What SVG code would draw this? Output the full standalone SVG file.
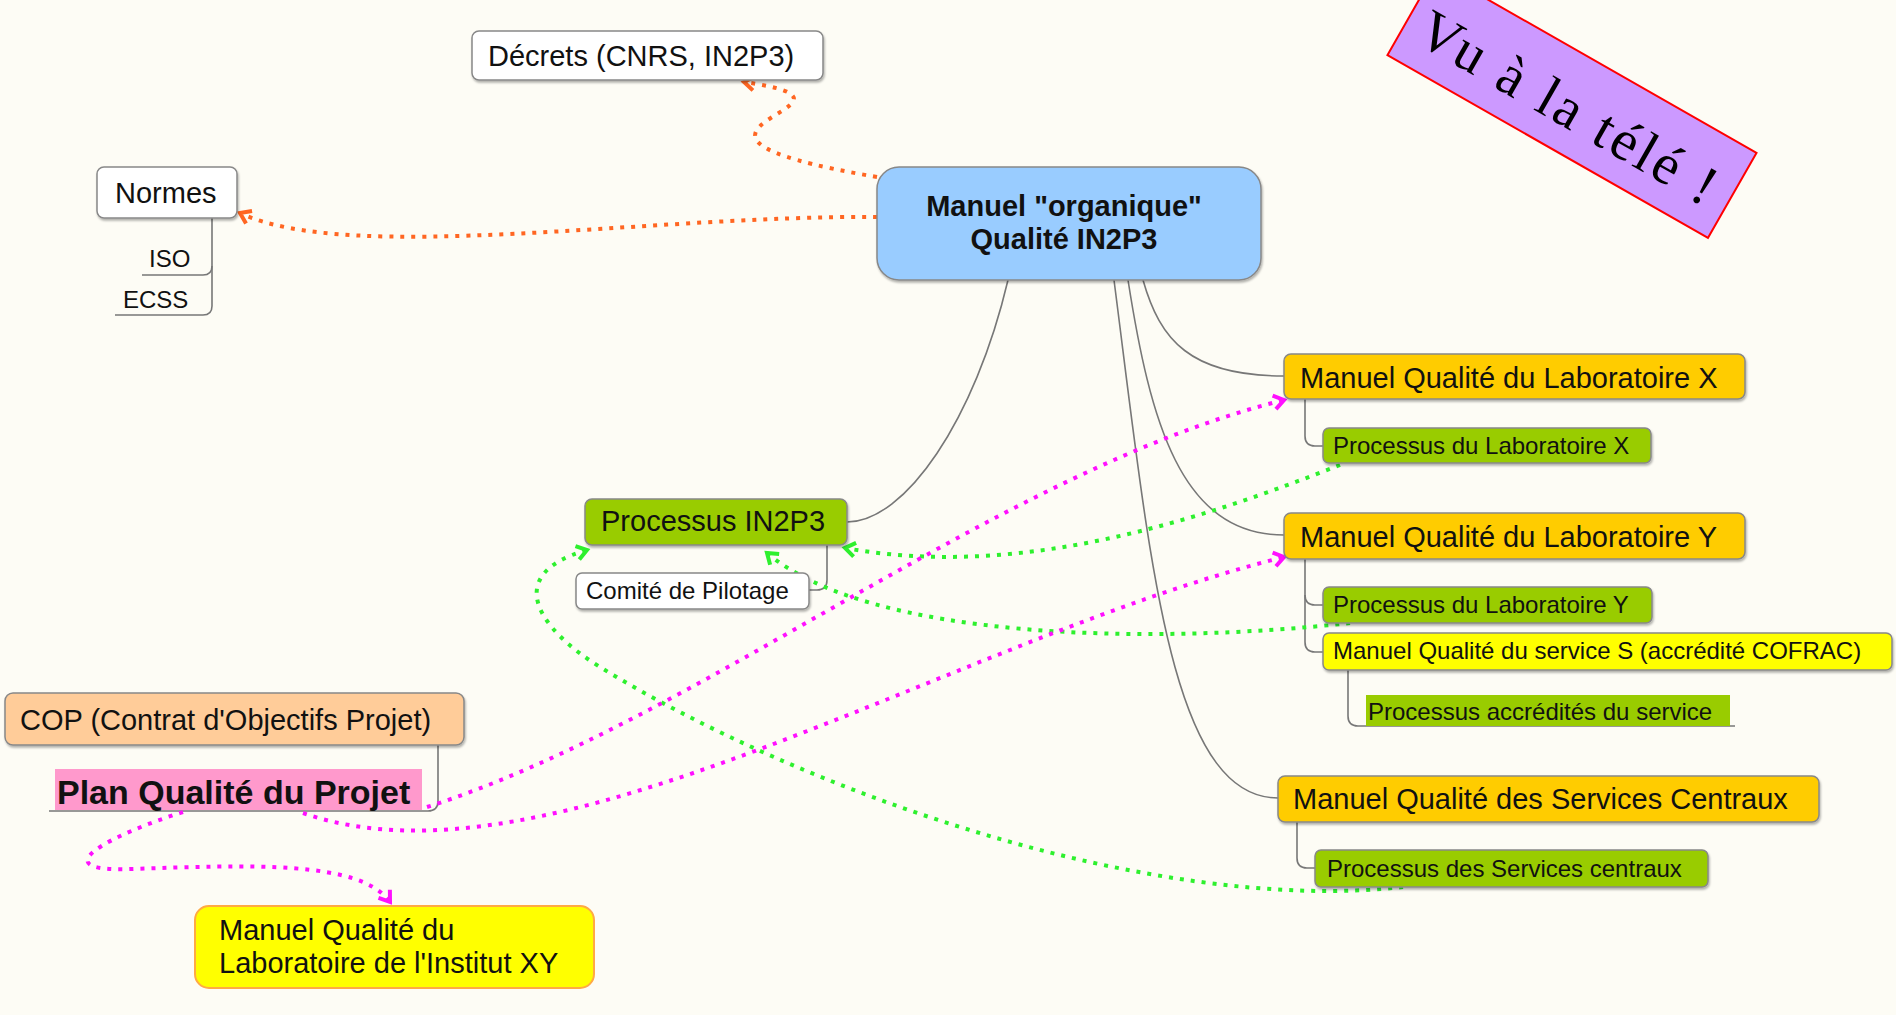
<svg xmlns="http://www.w3.org/2000/svg" width="1896" height="1015" viewBox="0 0 1896 1015">
<style>
.t{font-family:"Liberation Sans",Arial,sans-serif;fill:#111}
.b29{font-size:29px}
.s24{font-size:24px}
.box{stroke:#888;stroke-width:1.5;filter:url(#sh)}
.tree{fill:none;stroke:#777;stroke-width:1.6}
.dot{fill:none;stroke-width:4;stroke-dasharray:4 7}
.or{stroke:#ff6622}
.gr{stroke:#2ef02e}
.mg{stroke:#ff10ff}
</style>
<defs>
<filter id="sh" x="-5%" y="-10%" width="112%" height="135%">
<feDropShadow dx="1" dy="2" stdDeviation="1.2" flood-color="#000" flood-opacity="0.3"/>
</filter>
<marker id="aO" viewBox="0 0 20 20" refX="15" refY="10" markerWidth="20" markerHeight="20" markerUnits="userSpaceOnUse" orient="auto">
<path d="M5,3 L15,10 L5,17" fill="none" stroke="#ff6622" stroke-width="4" stroke-dasharray="none"/>
</marker>
<marker id="aG" viewBox="0 0 20 20" refX="15" refY="10" markerWidth="20" markerHeight="20" markerUnits="userSpaceOnUse" orient="auto">
<path d="M5,3 L15,10 L5,17" fill="none" stroke="#2ef02e" stroke-width="4" stroke-dasharray="none"/>
</marker>
<marker id="aM" viewBox="0 0 20 20" refX="15" refY="10" markerWidth="20" markerHeight="20" markerUnits="userSpaceOnUse" orient="auto">
<path d="M5,3 L15,10 L5,17" fill="none" stroke="#ff10ff" stroke-width="4" stroke-dasharray="none"/>
</marker>
</defs>
<rect x="0" y="0" width="1896" height="1015" fill="#fdfcf5"/>

<g id="connectors">
<!-- tree edges -->
<path class="tree" d="M1008,280 C975,420 905,522 847,522"/>
<path class="tree" d="M1143,280 C1160,340 1190,376 1284,376"/>
<path class="tree" d="M1128,280 C1150,420 1180,535 1284,535"/>
<path class="tree" d="M1114,280 C1150,560 1170,798 1278,798"/>
<path class="tree" d="M212,218 V266 Q212,275 203,275 H142"/>
<path class="tree" d="M212,266 V306 Q212,315 203,315 H115"/>
<path class="tree" d="M827,545 V580 Q827,590 817,590 H809"/>
<path class="tree" d="M1305,399 V436 Q1305,446 1315,446 H1323"/>
<path class="tree" d="M1305,559 V595 Q1305,605 1315,605 H1323"/>
<path class="tree" d="M1305,595 V642 Q1305,652 1315,652 H1323"/>
<path class="tree" d="M1348,670 V716 Q1348,726 1358,726 H1735"/>
<path class="tree" d="M1297,822 V858 Q1297,868 1307,868 H1315"/>
<path class="tree" d="M438,745 V801 Q438,811 428,811 H49"/>
<!-- arrow links -->
<path class="dot or" d="M877,177 C600,130 905,105 744,82" marker-end="url(#aO)"/>
<path class="dot or" d="M877,217 C650,215 350,265 240,213" marker-end="url(#aO)"/>
<path class="dot gr" d="M1340,465 C1200,520 1020,580 845,548" marker-end="url(#aG)"/>
<path class="dot gr" d="M1350,623 C1150,645 870,640 767,553" marker-end="url(#aG)"/>
<path class="dot gr" d="M1403,887 C1150,915 800,790 600,667 C540,630 500,575 587,550" marker-end="url(#aG)"/>
<path class="dot mg" d="M427,807 C700,720 1000,470 1284,400" marker-end="url(#aM)"/>
<path class="dot mg" d="M303,813 C550,900 950,640 1284,557" marker-end="url(#aM)"/>
<path class="dot mg" d="M183,812 C110,835 40,872 130,869 C250,865 360,860 390,902" marker-end="url(#aM)"/>
</g>

<g id="n-decrets">
<rect class="box" x="472" y="31" width="351" height="49" rx="7" fill="#ffffff"/>
<text class="t b29" x="488" y="66">Décrets (CNRS, IN2P3)</text>
</g>
<g id="n-normes">
<rect class="box" x="97" y="167" width="140" height="51" rx="7" fill="#ffffff"/>
<text class="t b29" x="115" y="203">Normes</text>
</g>
<g id="n-iso"><text class="t s24" x="149" y="267">ISO</text></g>
<g id="n-ecss"><text class="t s24" x="123" y="308">ECSS</text></g>
<g id="n-main">
<rect class="box" x="877" y="167" width="384" height="113" rx="22" fill="#99ccff"/>
<text class="t b29" x="1064" y="216" text-anchor="middle" font-weight="bold" fill="#333">Manuel "organique"</text>
<text class="t b29" x="1064" y="249" text-anchor="middle" font-weight="bold" fill="#333">Qualité IN2P3</text>
</g>
<g id="n-tele" transform="translate(1436,-30) rotate(29.7)">
<rect x="0" y="0" width="369" height="98" fill="#cc99ff" stroke="#ff0000" stroke-width="2"/>
<text x="16" y="73" font-family="'Liberation Serif','Times New Roman',serif" font-size="57" fill="#000" textLength="334" lengthAdjust="spacing">Vu à la télé !</text>
</g>
<g id="n-proc-in2p3">
<rect class="box" x="585" y="499" width="262" height="46" rx="7" fill="#99cc00"/>
<text class="t b29" x="601" y="531">Processus IN2P3</text>
</g>
<g id="n-comite">
<rect class="box" x="576" y="573" width="233" height="36" rx="6" fill="#ffffff"/>
<text class="t s24" x="586" y="599">Comité de Pilotage</text>
</g>
<g id="n-labx">
<rect class="box" x="1284" y="354" width="461" height="45" rx="7" fill="#ffcc00"/>
<text class="t b29" x="1300" y="388">Manuel Qualité du Laboratoire X</text>
</g>
<g id="n-proclabx">
<rect class="box" x="1323" y="428" width="328" height="35" rx="6" fill="#99cc00"/>
<text class="t s24" x="1333" y="454">Processus du Laboratoire X</text>
</g>
<g id="n-laby">
<rect class="box" x="1284" y="513" width="461" height="46" rx="7" fill="#ffcc00"/>
<text class="t b29" x="1300" y="547">Manuel Qualité du Laboratoire Y</text>
</g>
<g id="n-proclaby">
<rect class="box" x="1323" y="587" width="329" height="36" rx="6" fill="#99cc00"/>
<text class="t s24" x="1333" y="613">Processus du Laboratoire Y</text>
</g>
<g id="n-services">
<rect class="box" x="1323" y="633" width="569" height="37" rx="6" fill="#ffff00"/>
<text class="t s24" x="1333" y="659">Manuel Qualité du service S (accrédité COFRAC)</text>
</g>
<g id="n-procaccr">
<rect x="1366" y="695" width="364" height="31" fill="#99cc00"/>
<text class="t s24" x="1368" y="720">Processus accrédités du service</text>
</g>
<g id="n-sc">
<rect class="box" x="1278" y="776" width="541" height="46" rx="7" fill="#ffcc00"/>
<text class="t b29" x="1293" y="809">Manuel Qualité des Services Centraux</text>
</g>
<g id="n-procsc">
<rect class="box" x="1315" y="850" width="393" height="37" rx="6" fill="#99cc00"/>
<text class="t s24" x="1327" y="877">Processus des Services centraux</text>
</g>
<g id="n-cop">
<rect class="box" x="5" y="693" width="459" height="52" rx="8" fill="#ffcc99"/>
<text class="t b29" x="20" y="730">COP (Contrat d'Objectifs Projet)</text>
</g>
<g id="n-plan">
<rect x="55" y="769" width="367" height="41" fill="#ff99cc"/>
<text class="t" x="57" y="804" font-size="34" font-weight="bold">Plan Qualité du Projet</text>
</g>
<g id="n-xy">
<rect x="195" y="906" width="399" height="82" rx="14" fill="#ffff00" stroke="#ffaa44" stroke-width="2"/>
<text class="t b29" x="219" y="940">Manuel Qualité du</text>
<text class="t b29" x="219" y="973">Laboratoire de l'Institut XY</text>
</g>
</svg>
